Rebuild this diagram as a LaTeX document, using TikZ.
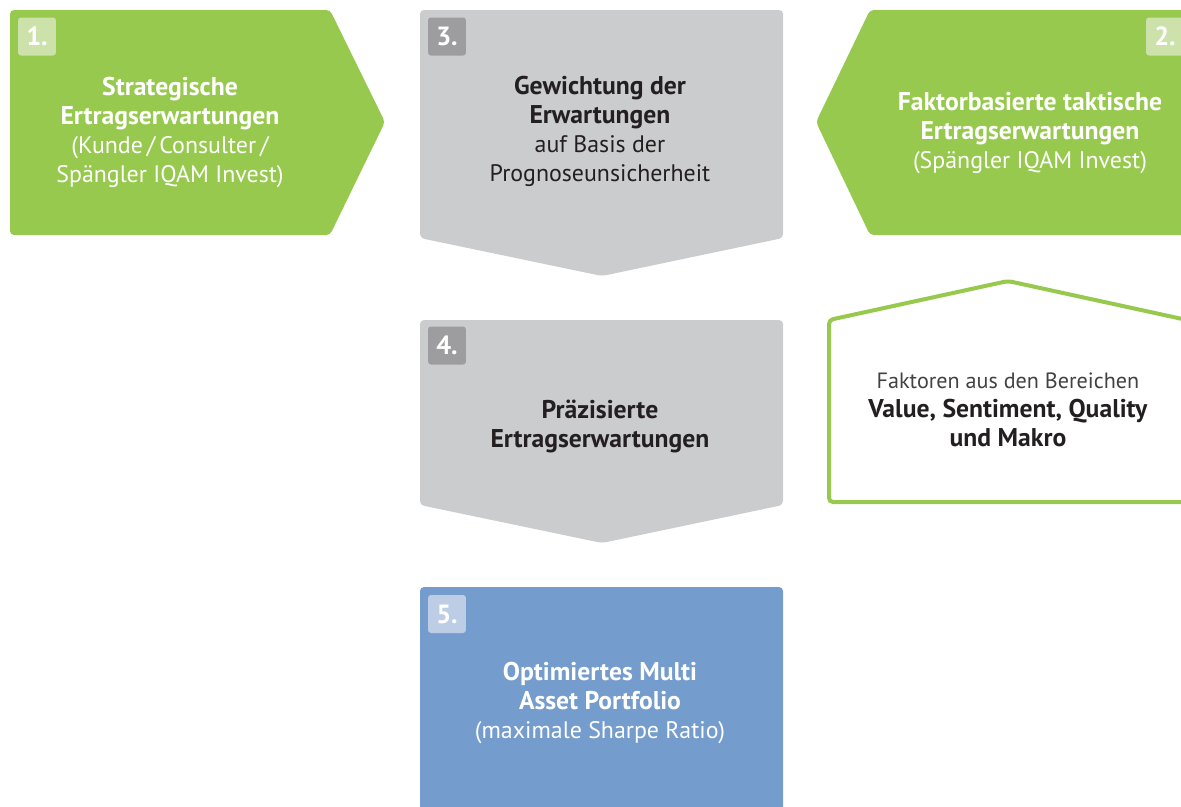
\documentclass[tikz,border=0pt]{standalone}
\usepackage{fontspec}
\setmainfont{PT Sans}
\usetikzlibrary{positioning}

\definecolor{stepgreen}{HTML}{97C94E}
\definecolor{stepgray}{HTML}{CBCCCD}
\definecolor{stepblue}{HTML}{749CCD}
\definecolor{tabgreen}{HTML}{CCE2AA}
\definecolor{tabgray}{HTML}{9D9D9F}
\definecolor{tabblue}{HTML}{BCCDE5}
\definecolor{textdark}{HTML}{231F20}

\newcommand{\plainline}{\fontsize{13.6}{16.5}\selectfont}

\begin{document}
\begin{tikzpicture}[x=0.02cm, y=-0.02cm]
	\tikzset{stepshape/.style = {rounded corners=0.08cm},
		tab/.style = {rounded corners=0.06cm, minimum size=0.76cm,
		inner sep=0pt, font=\fontsize{15}{17}\selectfont\bfseries, text=white},
		txt/.style = {align=center, font=\fontsize{14.6}{16.5}\selectfont}}

	\useasboundingbox (0,0) rectangle (1181,806);
	\clip (0,0) rectangle (1181,806);

	% shapes
	\fill[stepgreen, stepshape] (10,10) -- (330,10) -- (385,122) -- (330,235)
		-- (10,235) -- cycle;
	\fill[stepgray, stepshape] (420,10) -- (783,10) -- (783,238) -- (602,276)
		-- (420,238) -- cycle;
	\fill[stepgreen, stepshape] (1200,10) -- (870,10) -- (816,122) -- (870,235)
		-- (1200,235) -- cycle;
	\fill[stepgray, stepshape] (420,320) -- (783,320) -- (783,505) -- (602,543)
		-- (420,505) -- cycle;
	\fill[stepblue, stepshape] (420,830) -- (420,587) -- (783,587) -- (783,830)
		-- cycle;
	\draw[stepgreen, line width=0.08cm, stepshape] (829,320) -- (1008,281)
		-- (1187,320) -- (1187,502) -- (829,502) -- cycle;

	% numbers
	\node[tab, fill=tabgreen] (tab_1) at (37,36.5) {1.};
	\node[tab, fill=tabgray] (tab_3) at (447,36.5) {3.};
	\node[tab, fill=tabgreen] (tab_2) at (1165,36.5) {2.};
	\node[tab, fill=tabgray] (tab_4) at (447,345.5) {4.};
	\node[tab, fill=tabblue] (tab_5) at (447,614) {5.};

	% texts
	\node[txt, text=white] (strategic) at (170,132)
		{\textbf{Strategische}\\ \textbf{Ertragserwartungen}\\
		{\plainline (Kunde\,/\,Consulter\,/}\\
		{\plainline Spängler IQAM Invest)}};
	\node[txt, text=textdark] (weighting) at (600,131)
		{\textbf{Gewichtung der}\\ \textbf{Erwartungen}\\
		{\plainline auf Basis der}\\ {\plainline Prognoseunsicherheit}};
	\node[txt, text=white] (tactical) at (1030,133)
		{\textbf{Faktorbasierte taktische}\\ \textbf{Ertragserwartungen}\\
		{\plainline (Spängler IQAM Invest)}};
	\node[txt, text=textdark] (refined) at (600,426)
		{\textbf{Präzisierte}\\ \textbf{Ertragserwartungen}};
	\node[txt, text=white] (portfolio) at (600,703)
		{\textbf{Optimiertes Multi}\\ \textbf{Asset Portfolio}\\
		{\plainline (maximale Sharpe Ratio)}};
	\node[txt, text=textdark] (factors) at (1008,410)
		{{\fontsize{12.6}{16.5}\selectfont\color{textdark!85}Faktoren aus den Bereichen}\\
		\textbf{Value, Sentiment, Quality}\\ \textbf{und Makro}};
\end{tikzpicture}
\end{document}
